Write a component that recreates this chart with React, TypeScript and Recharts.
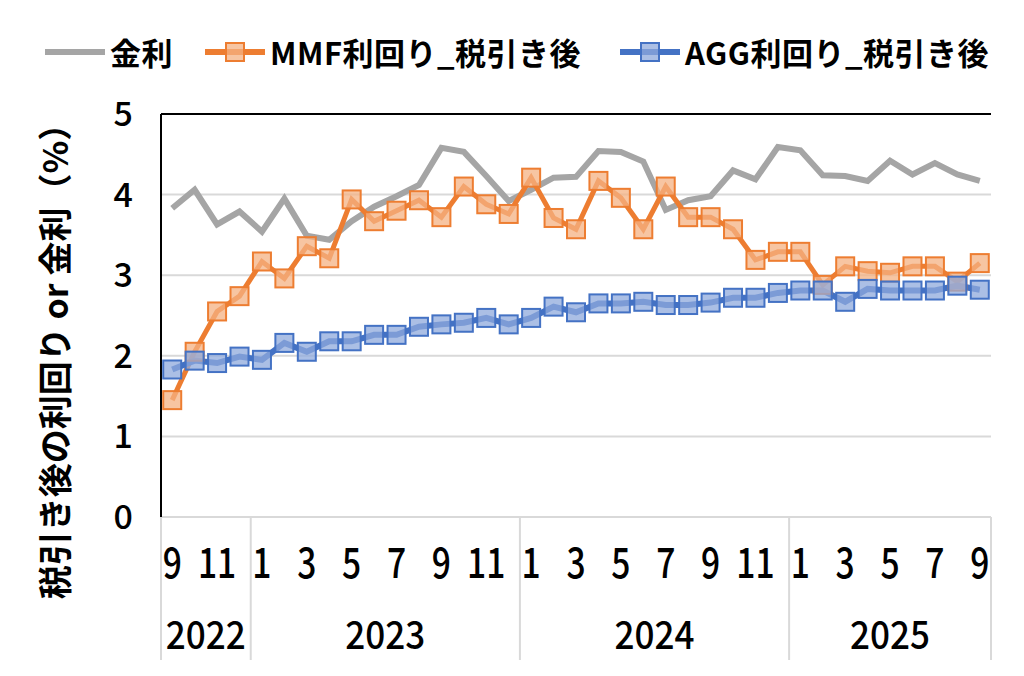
import { LineChart, Line, XAxis, YAxis, CartesianGrid, ReferenceLine } from 'recharts';

const YEARS = [
  2022, 2022, 2022, 2022,
  2023, 2023, 2023, 2023, 2023, 2023, 2023, 2023, 2023, 2023, 2023, 2023,
  2024, 2024, 2024, 2024, 2024, 2024, 2024, 2024, 2024, 2024, 2024, 2024,
  2025, 2025, 2025, 2025, 2025, 2025, 2025, 2025, 2025,
];
const MONTHS = [
  9, 10, 11, 12,
  1, 2, 3, 4, 5, 6, 7, 8, 9, 10, 11, 12,
  1, 2, 3, 4, 5, 6, 7, 8, 9, 10, 11, 12,
  1, 2, 3, 4, 5, 6, 7, 8, 9,
];
const GOLD = [
  3.83, 4.06, 3.63, 3.79, 3.54, 3.95, 3.49, 3.44, 3.67, 3.85, 3.98, 4.12,
  4.58, 4.53, 4.23, 3.92, 4.06, 4.21, 4.22, 4.54, 4.53, 4.41, 3.81, 3.93,
  3.98, 4.3, 4.19, 4.59, 4.55, 4.24, 4.23, 4.17, 4.42, 4.25, 4.39, 4.25, 4.17,
];
const MMF = [
  1.45, 2.05, 2.55, 2.74, 3.17, 2.96, 3.36, 3.21, 3.94, 3.67, 3.8, 3.93,
  3.72, 4.1, 3.88, 3.76, 4.21, 3.71, 3.57, 4.17, 3.96, 3.57, 4.1, 3.72,
  3.72, 3.57, 3.19, 3.29, 3.29, 2.88, 3.11, 3.05, 3.03, 3.11, 3.11, 2.92, 3.15,
];
const AGG = [
  1.83, 1.94, 1.91, 1.99, 1.95, 2.16, 2.05, 2.18, 2.18, 2.26, 2.26, 2.36,
  2.39, 2.41, 2.47, 2.39, 2.47, 2.61, 2.54, 2.65, 2.65, 2.67, 2.63, 2.63,
  2.66, 2.72, 2.72, 2.78, 2.81, 2.81, 2.67, 2.83, 2.81, 2.81, 2.81, 2.87, 2.82,
];
const Y_TICKS = [0, 1, 2, 3, 4, 5];

const data = MONTHS.map((m, i) => ({
  key: `${YEARS[i]}-${m}`,
  month: m,
  year: YEARS[i],
  gold: GOLD[i],
  mmf: MMF[i],
  agg: AGG[i],
}));

const W = 1024;
const H = 676;
const LEFT = 161;
const RIGHT = 33;
// half of one month's slot, so points sit in the middle of each slot like Excel
const HALF = (W - LEFT - RIGHT) / MONTHS.length / 2;

const FONT = "'Noto Sans CJK JP', 'Noto Sans', sans-serif";
const GRAY = '#a5a5a5';
const ORANGE = '#ed7d31';
const BLUE = '#4472c4';
const GRID = '#d9d9d9';

function squareDot(color: string, fill: string) {
  return (props: any) => {
    const { cx, cy, index } = props;
    if (cx == null || cy == null) return <g key={index} />;
    return (
      <rect key={index} x={cx - 9} y={cy - 9} width={18} height={18}
        fill={fill} fillOpacity={0.75} stroke={color} strokeWidth={2} />
    );
  };
}

// month labels every other month, year labels centred under each year, light separators
function MonthYearTick(props: any) {
  const { x, y, payload } = props;
  const i = payload.index;
  const year = YEARS[i];
  const first = i === 0 || YEARS[i - 1] !== year;
  const last = i === YEARS.length - 1;
  const count = YEARS.filter(v => v === year).length;
  const cx = x - HALF + count * HALF;
  return (
    <g>
      {i % 2 === 0 && (
        <text x={x} y={y + 61} textAnchor="middle" fontSize={42} fontWeight={500}
          fill="#000" fontFamily={FONT} transform={`translate(${x},0) scale(0.8,1) translate(${-x},0)`}>
          {MONTHS[i]}
        </text>
      )}
      {first && (
        <>
          <line x1={x - HALF} x2={x - HALF} y1={y} y2={y + 143} stroke={GRID} strokeWidth={2} />
          <text x={cx} y={y + 132} textAnchor="middle" fontSize={39}
            fontWeight={500} fill="#000" fontFamily={FONT}
            transform={`translate(${cx},0) scale(0.9,1) translate(${-cx},0)`}>
            {year}
          </text>
        </>
      )}
      {last && <line x1={x + HALF} x2={x + HALF} y1={y} y2={y + 143} stroke={GRID} strokeWidth={2} />}
    </g>
  );
}

function LegendIcon({ color, fill, marker }: { color: string; fill?: string; marker: boolean }) {
  return (
    <svg width={62} height={24} style={{ display: 'block' }}>
      <line x1={1} x2={61} y1={12} y2={12} stroke={color} strokeWidth={6} />
      {marker && <rect x={22} y={3} width={18} height={18} fill={fill} fillOpacity={0.75} stroke={color} strokeWidth={2} />}
    </svg>
  );
}

export default function App() {
  const legend = [
    { name: '金利', color: GRAY, marker: false, left: 44 },
    { name: 'MMF利回り_税引き後', color: ORANGE, fill: '#f4b183', marker: true, left: 204 },
    { name: 'AGG利回り_税引き後', color: BLUE, fill: '#8faadc', marker: true, left: 619 },
  ];
  return (
    <div style={{ position: 'absolute', left: 0, top: 0, width: W, height: H, background: '#fff' }}>
      {legend.map(l => (
        <div key={l.name} style={{ position: 'absolute', left: l.left, top: 32, display: 'flex', alignItems: 'center', gap: 4 }}>
          <LegendIcon color={l.color} fill={l.fill} marker={l.marker} />
          <span style={{ fontFamily: FONT, fontWeight: 700, fontSize: 31, lineHeight: '40px', color: '#000', letterSpacing: 0.5 }}>{l.name}</span>
        </div>
      ))}
      <LineChart width={W} height={H} data={data} margin={{ top: 114, right: RIGHT, bottom: 0, left: 0 }}>
        <CartesianGrid vertical={false} stroke={GRID} strokeWidth={2} />
        <XAxis dataKey="key" interval={0} height={159} tickSize={0} tickMargin={0}
          padding={{ left: HALF, right: HALF }}
          axisLine={{ stroke: GRID, strokeWidth: 2 }} tickLine={false} tick={<MonthYearTick />} />
        <YAxis domain={[0, 5]} ticks={Y_TICKS} width={LEFT} tickSize={0} tickMargin={28}
          axisLine={{ stroke: '#000', strokeWidth: 2 }} tickLine={false}
          tick={{ fontSize: 34, fontWeight: 500, fill: '#000', fontFamily: FONT }}
          label={{
            content: () => (
              <text x={53} y={353} textAnchor="middle" dominantBaseline="central" fontSize={34}
                fontWeight={700} fill="#000" fontFamily={FONT} transform="rotate(-90 53 353)">
                税引き後の利回り or 金利（%）
              </text>
            ),
          }} />
        <YAxis yAxisId="right" orientation="right" domain={[0, 5]} width={0} tick={false}
          tickLine={false} axisLine={{ stroke: '#000', strokeWidth: 2 }} />
        <ReferenceLine y={5} stroke="#000" strokeWidth={2} />
        <Line dataKey="gold" stroke={GRAY} strokeWidth={6} dot={false} isAnimationActive={false} />
        <Line dataKey="mmf" stroke={ORANGE} strokeWidth={5} dot={squareDot(ORANGE, '#f4b183')} isAnimationActive={false} />
        <Line dataKey="agg" stroke={BLUE} strokeWidth={6} dot={squareDot(BLUE, '#8faadc')} isAnimationActive={false} />
      </LineChart>
    </div>
  );
}
